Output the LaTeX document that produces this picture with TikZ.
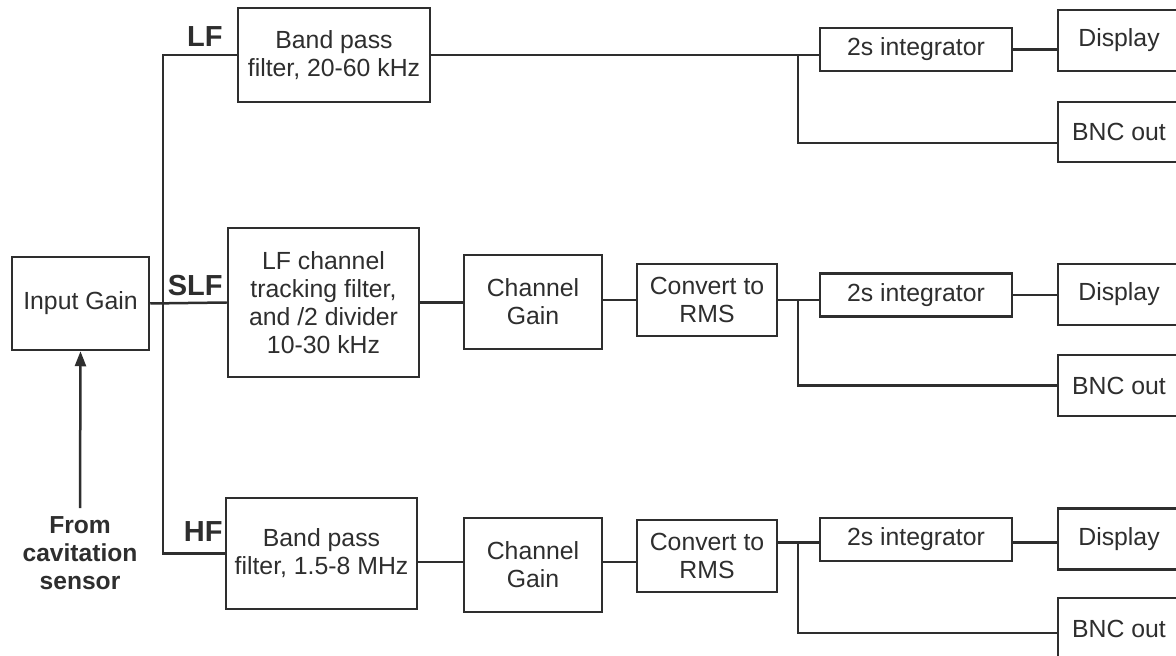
\documentclass[tikz,border=0pt]{standalone}
\usepackage{fontspec}
\setmainfont{Liberation Sans}
\usetikzlibrary{arrows.meta,calc}
\definecolor{ink}{HTML}{2E2E2E}
\tikzset{
  blk/.style={draw=ink, line width=1.25pt, rectangle, inner sep=0pt, align=center, text=ink,
    font=\fontsize{12.4}{14}\selectfont},
  wire/.style={draw=ink, line width=1.25pt},
  chlabel/.style={text=ink, font=\fontsize{14.5}{16}\selectfont\bfseries, inner sep=0pt, anchor=base east},
}
\begin{document}
\begin{tikzpicture}[x=0.5pt, y=-0.5pt]
\clip (0,0) rectangle (1176,656);
\fill[white] (0,0) rectangle (1176,656);

% first column
\node[blk, minimum width=68.5pt, minimum height=46.5pt] (ig) at (80.5,303.5) {Input Gain};
\node[text=ink, align=center, inner sep=0pt, font=\fontsize{12.3}{14}\selectfont\bfseries] (src) at (80,553) {From\\cavitation\\sensor};

% filters
\node[blk, minimum width=96pt, minimum height=47pt] (lf) at (334,55) {Band pass\\filter, 20-60 kHz};
\node[blk, minimum width=95.5pt, minimum height=74.5pt] (slf) at (323.5,302.5) {LF channel\\tracking filter,\\and /2 divider\\10-30 kHz};
\node[blk, minimum width=95.5pt, minimum height=55.5pt] (hf) at (321.5,553.5) {Band pass\\filter, 1.5-8 MHz};

% channel gain and RMS
\node[blk, minimum width=69pt, minimum height=47pt] (cg2) at (533,302) {Channel\\Gain};
\node[blk, minimum width=70pt, minimum height=36pt] (rms2) at (707,300) {Convert to\\RMS};
\node[blk, minimum width=69pt, minimum height=47pt] (cg3) at (533,565) {Channel\\Gain};
\node[blk, minimum width=70pt, minimum height=36pt] (rms3) at (707,556) {Convert to\\RMS};

% integrators
\node[blk, minimum width=96pt, minimum height=21.5pt] (int1) at (916,49.5) {2s integrator};
\node[blk, minimum width=96pt, minimum height=21.5pt] (int2) at (916,295) {2s integrator};
\node[blk, minimum width=96pt, minimum height=21.5pt] (int3) at (916,539.5) {2s integrator};

% outputs
\node[blk, minimum width=61pt, minimum height=30.5pt] (disp1) at (1119,40.5) {Display};
\node[blk, minimum width=61pt, minimum height=30pt] (bnc1) at (1119,132) {BNC out};
\node[blk, minimum width=61pt, minimum height=30.5pt] (disp2) at (1119,294.5) {Display};
\node[blk, minimum width=61pt, minimum height=30.5pt] (bnc2) at (1119,385.5) {BNC out};
\node[blk, minimum width=61pt, minimum height=30.5pt] (disp3) at (1119,539) {Display};
\node[blk, minimum width=61pt, minimum height=30.5pt] (bnc3) at (1119,628.5) {BNC out};

% channel labels
\node[chlabel] (lLF) at (223,47) {LF};
\node[chlabel] (lSLF) at (223,296) {SLF};
\node[chlabel] (lHF) at (223,542) {HF};

% input
\coordinate (srctop) at ($(src.north)+(0,-8)$);
\draw[wire, -{Triangle[length=7.5pt,width=5.5pt]}] (srctop) -- (ig.south);
\coordinate (tr) at (163,0);
\draw[wire] (ig.east) -- (slf.west);
\draw[wire] (lf.west) -| (tr |- hf.west) -- (hf.west);

% LF chain
\coordinate (j1) at (798,0);
\coordinate (b1) at ($(bnc1.west)+(0,11)$);
\draw[wire] (lf.east) -- (lf.east -| int1.west);
\draw[wire] (j1 |- lf.east) |- (b1);
\draw[wire] (int1.east) -- (int1.east -| disp1.west);

% SLF chain
\draw[wire] (slf.east) -- (slf.east -| cg2.west);
\draw[wire] (rms2.west -| cg2.east) -- (rms2.west);
\draw[wire] (rms2.east) -- (rms2.east -| int2.west);
\draw[wire] (j1 |- rms2.east) |- (bnc2.west);
\draw[wire] (int2.east) -- (int2.east -| disp2.west);

% HF chain
\coordinate (h1) at ($(cg3.west)+(0,-3)$);
\coordinate (h2) at ($(cg3.east)+(0,-3)$);
\coordinate (h3) at ($(int3.west)+(0,3)$);
\coordinate (h4) at ($(int3.east)+(0,3)$);
\coordinate (b3) at ($(bnc3.west)+(0,4.5)$);
\draw[wire] (h1 -| hf.east) -- (h1);
\draw[wire] (h2) -- (h2 -| rms3.west);
\draw[wire] (h3 -| rms3.east) -- (h3);
\draw[wire] (j1 |- h3) |- (b3);
\draw[wire] (h4) -- (h4 -| disp3.west);
\end{tikzpicture}
\end{document}
